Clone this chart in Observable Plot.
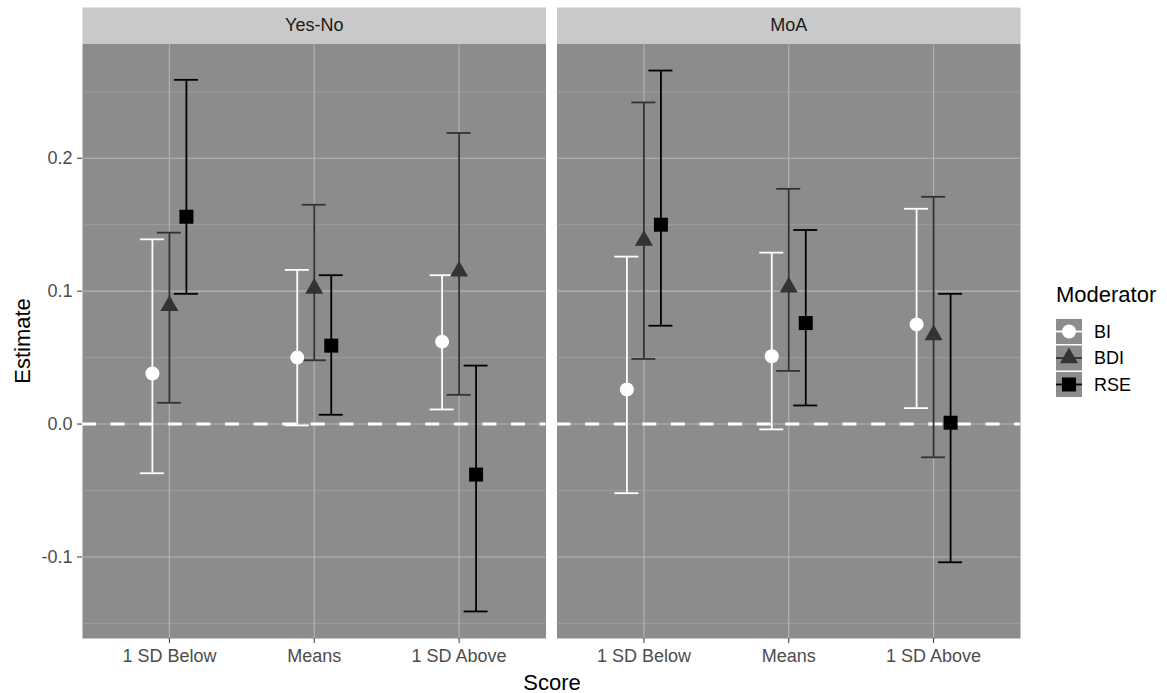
<!DOCTYPE html>
<html>
<head>
<meta charset="utf-8">
<script src="https://cdn.jsdelivr.net/npm/d3@7"></script>
<script src="https://cdn.jsdelivr.net/npm/@observablehq/plot@0.6"></script>
<style>
  body { margin: 0; background: #ffffff; }
  #wrap { position: relative; width: 1167px; height: 693px; font-family: "Liberation Sans", Arial, Helvetica, sans-serif; }
  #chart { position: absolute; left: 0; top: 0; }
  #legend { position: absolute; left: 1050px; top: 275px; }
</style>
</head>
<body>
<div id="wrap"><div id="chart"></div><div id="legend"></div></div>
<script>
// ---------- data ----------
const panels = ["Yes-No", "MoA"];
const scores = ["1 SD Below", "Means", "1 SD Above"];
const moderators = ["BI", "BDI", "RSE"];

// rows: moderator (BI, BDI, RSE); columns: score (1 SD Below, Means, 1 SD Above)
const yesNoEstimate = [[0.038, 0.050, 0.062], [0.089, 0.102, 0.115], [0.156, 0.059, -0.038]];
const yesNoLower    = [[-0.037, -0.001, 0.011], [0.016, 0.048, 0.022], [0.098, 0.007, -0.141]];
const yesNoUpper    = [[0.139, 0.116, 0.112], [0.144, 0.165, 0.219], [0.259, 0.112, 0.044]];

const moaEstimate = [[0.026, 0.051, 0.075], [0.138, 0.103, 0.067], [0.150, 0.076, 0.001]];
const moaLower    = [[-0.052, -0.004, 0.012], [0.049, 0.040, -0.025], [0.074, 0.014, -0.104]];
const moaUpper    = [[0.126, 0.129, 0.162], [0.242, 0.177, 0.171], [0.266, 0.146, 0.098]];

const majorTicks = [-0.1, 0.0, 0.1, 0.2];
const minorTicks = [-0.15, -0.05, 0.05, 0.15, 0.25];

// ---------- styles ----------
const modStyle = {
  BI:  { color: "#ffffff", symbol: "circle",   r: 7,   dx: -17 },
  BDI: { color: "#333333", symbol: "triangle", r: 6.7, dx: 0 },
  RSE: { color: "#000000", symbol: "square",   r: 7.9, dx: 17 }
};
const FONT = '"Liberation Sans", Arial, Helvetica, sans-serif';
const PANEL_BG = "#8c8c8c";

// ---------- build table ----------
const tables = {
  "Yes-No": [yesNoEstimate, yesNoLower, yesNoUpper],
  "MoA": [moaEstimate, moaLower, moaUpper]
};
const rows = [];
for (const p of panels) {
  const [est, lo, up] = tables[p];
  moderators.forEach((m, mi) => {
    scores.forEach((s, si) => {
      rows.push({ panel: p, moderator: m, score: s, estimate: est[mi][si], lower: lo[mi][si], upper: up[mi][si] });
    });
  });
}
const lo = d3.min(rows, d => d.lower), hi = d3.max(rows, d => d.upper);
const pad = (hi - lo) * 0.05;
const yDomain = [lo - pad, hi + pad];

// ---------- marks ----------
const H = 693, MT = 43, MB = 55;
const panelH = H - MT - MB;

const errorbars = [], points = [];
for (const m of moderators) {
  const s = modStyle[m];
  const data = rows.filter(d => d.moderator === m);
  errorbars.push(
    Plot.ruleX(data, { x: "score", y1: "lower", y2: "upper", fx: "panel", stroke: s.color, strokeWidth: 1.8, dx: s.dx }),
    Plot.ruleY(data, { x1: "score", x2: "score", y: "lower", fx: "panel", stroke: s.color, strokeWidth: 1.8, dx: s.dx, insetLeft: -12, insetRight: -12 }),
    Plot.ruleY(data, { x1: "score", x2: "score", y: "upper", fx: "panel", stroke: s.color, strokeWidth: 1.8, dx: s.dx, insetLeft: -12, insetRight: -12 })
  );
  points.push(
    Plot.dot(data, { x: "score", y: "estimate", fx: "panel", symbol: s.symbol, r: s.r, fill: s.color, stroke: "none", dx: s.dx })
  );
}

const chart = Plot.plot({
  width: 1167,
  height: H,
  marginLeft: 82,
  marginRight: 147,
  marginTop: MT,
  marginBottom: MB,
  style: { fontFamily: FONT, fontSize: "18px", background: "white", overflow: "visible" },
  fx: { domain: panels, paddingInner: 0.0232, paddingOuter: 0, axis: null, label: null, round: false },
  x: { type: "point", domain: scores, padding: 0.6, axis: null, round: false },
  y: { domain: yDomain, axis: null },
  marks: [
    Plot.frame({ fill: PANEL_BG }),
    Plot.frame({ fill: "#c9c9c9", insetTop: -36, insetBottom: panelH }),
    Plot.text(panels, { fx: d => d, text: d => d, frameAnchor: "top", lineAnchor: "middle", dy: -18, fontSize: 18, fill: "#1a1a1a" }),
    Plot.gridY(minorTicks, { stroke: "#a1a1a1", strokeOpacity: 1, strokeWidth: 0.8 }),
    Plot.gridY(majorTicks, { stroke: "#b4b4b4", strokeOpacity: 1, strokeWidth: 1.1 }),
    Plot.gridX({ stroke: "#b4b4b4", strokeOpacity: 1, strokeWidth: 1.1 }),
    Plot.ruleY([0], { stroke: "white", strokeWidth: 3, strokeDasharray: "14 14.6" }),
    Plot.axisY(majorTicks, { tickFormat: d => d.toFixed(1), tickSize: 5, tickPadding: 5, fontSize: 18, stroke: "#333333", fill: "#4d4d4d", label: null }),
    Plot.axisX({ tickSize: 5, tickPadding: 6, fontSize: 18, stroke: "#333333", fill: "#4d4d4d", label: null }),
    ...errorbars,
    ...points,
    Plot.text(["Estimate"], { fx: () => panels[0], text: d => d, frameAnchor: "left", textAnchor: "middle", lineAnchor: "middle", rotate: -90, dx: -60, fontSize: 22, fill: "#000000" }),
    Plot.text(["Score"], { fx: () => panels[0], text: d => d, frameAnchor: "bottom-right", textAnchor: "middle", lineAnchor: "middle", dx: 6, dy: 44, fontSize: 22, fill: "#000000" })
  ]
});
document.getElementById("chart").appendChild(chart);

// ---------- legend ----------
const keyW = 26, keyH = 25, keyStep = 26.5, keyX = 6, keyY0 = 44;
const lsvg = d3.select("#legend").append("svg")
  .attr("width", 117).attr("height", 135)
  .style("font-family", FONT);
lsvg.append("text").attr("x", keyX).attr("y", 27).attr("font-size", 22).attr("fill", "#000").text("Moderator");
moderators.forEach((m, i) => {
  const s = modStyle[m];
  const g = lsvg.append("g").attr("transform", `translate(${keyX},${keyY0 + i * keyStep})`);
  g.append("rect").attr("width", keyW).attr("height", keyH).attr("fill", PANEL_BG);
  g.append("line").attr("x1", 0).attr("x2", keyW).attr("y1", keyH / 2).attr("y2", keyH / 2)
    .attr("stroke", s.color).attr("stroke-width", 1.8);
  const sym = { circle: d3.symbolCircle, triangle: d3.symbolTriangle, square: d3.symbolSquare }[s.symbol];
  g.append("path").attr("transform", `translate(${keyW / 2},${keyH / 2})`)
    .attr("d", d3.symbol(sym, Math.PI * s.r * s.r)()).attr("fill", s.color);
  lsvg.append("text").attr("x", keyX + keyW + 12).attr("y", keyY0 + i * keyStep + keyH / 2)
    .attr("dy", "0.35em").attr("font-size", 18).attr("fill", "#000").text(m);
});
</script>
</body>
</html>
